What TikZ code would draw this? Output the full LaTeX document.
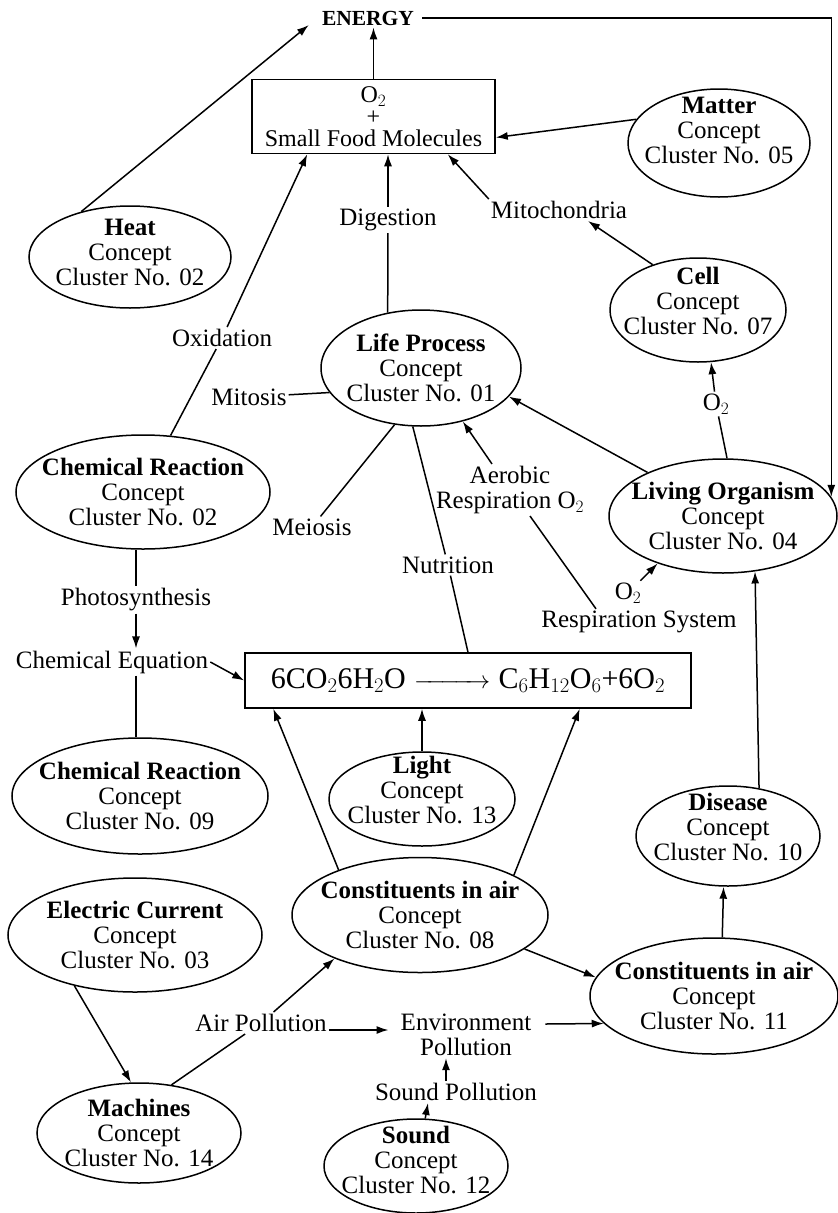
\documentclass[tikz,border=0pt]{standalone}
\usepackage{amsmath}
\usepackage[no-math]{fontspec}
\setmainfont{Liberation Serif}
\usetikzlibrary{shapes.geometric,arrows.meta,calc}

\begin{document}
\begin{tikzpicture}[x=1pt,y=-1pt,
				every node/.style={font=\fontsize{25}{25}\selectfont,inner sep=2pt},
				concept/.style 2 args={ellipse,draw,line width=1.5pt,align=center,
					minimum width=#1,minimum height=#2,inner xsep=-30pt,inner ysep=-10pt},
				lift/.style={execute at end node={\rule[-#1]{0pt}{0pt}}},
				lift/.default=19pt,
				panel/.style={draw,line width=1.5pt,align=center,inner sep=0pt},
				conn/.style={line width=1.5pt},
				arr/.style={line width=1.5pt,-{Latex[length=12pt,width=8pt]}}]
\useasboundingbox (0,0) rectangle (838,1213);
% concept clusters
\node[font=\bfseries\fontsize{21.5}{22}\selectfont] (energy) at (368,18) {ENERGY};
\node[panel,minimum width=243pt,minimum height=74pt,font=\fontsize{24}{22}\selectfont] (food) at (373.5,116.5) {O$_2$\\+\\Small Food Molecules};
\node[concept={202pt}{102pt},lift=9pt] (heat) at (130,257) {\textbf{Heat}\\Concept\\Cluster No. 02};
\node[concept={182pt}{108pt},lift=25pt] (matter) at (719,143) {\textbf{Matter}\\Concept\\Cluster No. 05};
\node[concept={176pt}{104pt},lift] (cell) at (698,310) {\textbf{Cell}\\Concept\\Cluster No. 07};
\node[concept={200pt}{116pt}] (life) at (421,368) {\textbf{Life Process}\\Concept\\Cluster No. 01};
\node[concept={254pt}{114pt}] (chemA) at (143,492) {\textbf{Chemical Reaction}\\Concept\\Cluster No. 02};
\node[concept={228pt}{114pt}] (living) at (723,516) {\textbf{Living Organism}\\Concept\\Cluster No. 04};
\node[panel,minimum width=446pt,minimum height=55pt,font=\fontsize{30}{30}\selectfont] (eq) at (468,680.5)
	{6CO$_2$6H$_2$O\;$\xrightarrow{\hspace{2em}}$\;C$_6$H$_{12}$O$_6$+6O$_2$};
\node[concept={256pt}{116pt}] (chemB) at (140,796) {\textbf{Chemical Reaction}\\Concept\\Cluster No. 09};
\node[concept={186pt}{94pt},lift] (light) at (422,799) {\textbf{Light}\\Concept\\Cluster No. 13};
\node[concept={184pt}{100pt},lift] (disease) at (728,836) {\textbf{Disease}\\Concept\\Cluster No. 10};
\node[concept={256pt}{115pt}] (airA) at (420,915) {\textbf{Constituents in air}\\Concept\\Cluster No. 08};
\node[concept={254pt}{114pt}] (current) at (135,935) {\textbf{Electric Current}\\Concept\\Cluster No. 03};
\node[concept={248pt}{116pt}] (airB) at (714,996) {\textbf{Constituents in air}\\Concept\\Cluster No. 11};
\node[concept={204pt}{100pt}] (machines) at (139,1133) {\textbf{Machines}\\Concept\\Cluster No. 14};
\node[concept={184pt}{94pt},lift=13pt] (sound) at (416,1166) {\textbf{Sound}\\Concept\\Cluster No. 12};
% link words
\node (oxid) at (222,338) {Oxidation};
\node (digest) at (388,220) {Digestion};
\node (mito) at (559,210) {Mitochondria};
\node (mitosis) at (249,397) {Mitosis};
\node (meiosis) at (312,527) {Meiosis};
\node[align=center] (aerobic) at (510,490) {Aerobic\\Respiration O$_2$};
\node (nutrition) at (448,565) {Nutrition};
\node (oxyA) at (716,404) {O$_2$};
\node (oxyB) at (628,593) {O$_2$};
\node (respsys) at (639,622) {Respiration System};
\node (photo) at (136,600) {Photosynthesis};
\node (chemeq) at (112,662) {Chemical Equation};
\node (airpol) at (261,1023) {Air Pollution};
\node[align=center] (envpol) at (466,1035) {Environment\\Pollution};
\node (soundpol) at (456,1092) {Sound Pollution};
% upper part
\draw[arr] (food.north) -- (food.north |- energy.south);
\draw[arr] (heat.137) -- ([xshift=-11pt,yshift=-7pt]energy.west);
\draw[arr] ([xshift=6pt]energy.east) -| (living.10);
\draw[arr] (matter.164) -- ([yshift=-21pt]food.east);
\draw[arr] (mito.north west) -- ([xshift=-48pt]food.south east);
\draw[arr] (cell.135) -- ([xshift=29pt]mito.south);
\draw[conn] (life.121) -- (digest);
\draw[arr] (digest) -- (food.south -| digest.north);
\draw[conn] (chemA.64) -- (oxid);
\draw[arr] (oxid) -- ([xshift=56pt]food.south west);
\draw[conn] (mitosis) -- (life.195);
\draw[conn] (meiosis) -- (life.245);
\draw[conn] (life.262) -- (nutrition) -- (eq.north);
\draw[arr] ([xshift=-18pt]aerobic.north) -- (life.308);
\draw[conn] ([xshift=20pt]aerobic.south) -- ([xshift=-43pt]respsys.north);
\draw[arr] (living.150) -- (life.342);
\draw[conn] (living.86) -- (oxyA);
\draw[arr] (oxyA) -- (cell.284);
\draw[arr] (oxyB) -- (living.216);
\draw[arr] (disease.57) -- (living.300);
% chemical reaction
\draw[conn] (chemA.south -| photo.north) -- (photo.north);
\draw[arr] (photo.south) -- (photo.south |- chemeq.north);
\draw[arr] (chemeq.east) -- (eq.west);
\draw[conn] (photo.south |- chemeq.south) -- (photo.south |- chemB.north);
\draw[arr] (light.north) -- (eq.south -| light.north);
\draw[arr] (airA.151) -- ([xshift=29pt]eq.south west);
\draw[arr] (airA.23) -- ([xshift=-112pt]eq.south east);
% pollution
\draw[arr] (airA.342) -- (airB.171);
\draw[arr] (airB.82) -- (disease.265);
\draw[arr] (current.220) -- (machines.99);
\draw[conn] (machines.56) -- (airpol);
\draw[arr] (airpol) -- (airA.207);
\draw[arr] ($(airpol.east)+(0,7)$) -- ($(airpol.east -| envpol.west)+(-10,7)$);
\draw[arr] ($(envpol.east)+(12,-11)$) -- (airB.194);
\draw[arr] ([xshift=-10pt]soundpol.north) -- ([xshift=-20pt]envpol.south);
\draw[arr] (sound.79) -- ([xshift=-28pt]soundpol.south);
\end{tikzpicture}
\end{document}
